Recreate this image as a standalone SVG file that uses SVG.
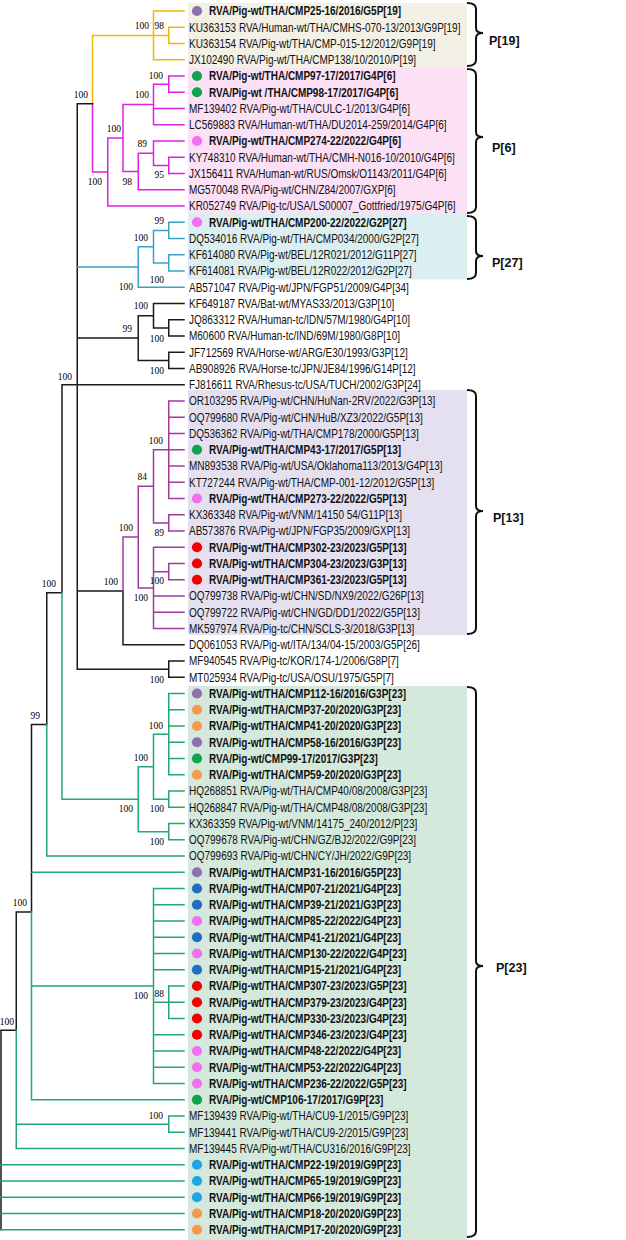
<svg xmlns="http://www.w3.org/2000/svg" width="626" height="1240" viewBox="0 0 626 1240">
<style>
.t{font-family:"Liberation Sans",Arial,sans-serif;font-size:12.5px;fill:#111}
.b{font-weight:bold}
.bs{font-family:"Liberation Serif","Times New Roman",serif;font-size:9.5px;fill:#000;text-anchor:end}
.cl{font-family:"Liberation Sans",Arial,sans-serif;font-size:12.5px;font-weight:bold;fill:#111}
.e{fill:none;stroke-width:1.5;stroke-linecap:square}
.k{stroke:#1a1a1a}.gd{stroke:#f2b500}.mg{stroke:#e020e0}.cy{stroke:#3aa2c8}.pp{stroke:#a23a9c}.gr{stroke:#22a676}
.br{fill:none;stroke:#111;stroke-width:2}
.pu{fill:#8c70b0}.gn{fill:#0fa34e}.pk{fill:#f46ef2}.rd{fill:#f40000}.or{fill:#f6994f}.bl{fill:#1f6fbf}.lb{fill:#1ca6e6}
</style>
<g id="clade-backgrounds">
<rect x="188" y="3" width="279" height="65" fill="#f3f0e6"/>
<rect x="188" y="68" width="279" height="146" fill="#fce0f5"/>
<rect x="188" y="214" width="279" height="65.5" fill="#dceff0"/>
<rect x="188" y="390" width="279" height="245" fill="#e5e0f0"/>
<rect x="188" y="686" width="279" height="554" fill="#d5e8dc"/>
</g>
<g id="connectors">
<path class="e gd" d="M92.5 35.38V103.68M92.5 35.38H153.5M153.5 11V59.75M153.5 11H184M153.5 59.75H184M153.5 35.38H168.75M168.75 27.25V43.5M168.75 27.25H184M168.75 43.5H184"/>
<path class="e mg" d="M92.5 103.68V171.98M92.5 171.98H107.75M107.75 137.95V206M107.75 137.95H123M107.75 206H184M123 104.44V171.47M123 104.44H153.5M123 171.47H138.25M153.5 84.13V124.75M153.5 84.13H168.75M153.5 108.5H184M153.5 124.75H184M168.75 76V92.25M168.75 76H184M168.75 92.25H184M138.25 153.19V189.75M138.25 153.19H153.5M138.25 189.75H184M153.5 141V165.38M153.5 141H184M153.5 165.38H168.75M168.75 157.25V173.5M168.75 157.25H184M168.75 173.5H184"/>
<path class="e k" d="M77.25 103.68V669.13M77.25 103.68H92.5M77.25 338.03H138.25M62 384.75H184M77.25 590.92H123M77.25 669.13H168.75M138.25 315.69V360.38M138.25 315.69H153.5M138.25 360.38H168.75M153.5 303.5V327.88M153.5 303.5H184M153.5 327.88H168.75M168.75 319.75V336M168.75 319.75H184M168.75 336H184M168.75 352.25V368.5M168.75 352.25H184M168.75 368.5H184M123 590.92V644.75M123 644.75H184M168.75 661V677.25M168.75 661H184M168.75 677.25H184M62 384.75V592.76M46.75 592.76H62M46.75 592.76V724.38M31.5 724.38H46.75M31.5 724.38V912.07M16.25 912.07H31.5M16.25 912.07V1030.3M1 1030.3H16.25M1 1030.3V1229.75"/>
<path class="e cy" d="M77.25 266.94H138.25M138.25 246.63V287.25M138.25 246.63H153.5M138.25 287.25H184M153.5 230.38V262.88M153.5 230.38H168.75M153.5 262.88H168.75M168.75 222.25V238.5M168.75 222.25H184M168.75 238.5H184M168.75 254.75V271M168.75 254.75H184M168.75 271H184"/>
<path class="e pp" d="M123 537.09V590.92M123 537.09H138.25M138.25 486.31V587.88M138.25 486.31H153.5M138.25 587.88H153.5M153.5 449.75V522.88M153.5 449.75H168.75M153.5 522.88H168.75M168.75 401V498.5M168.75 401H184M168.75 417.25H184M168.75 433.5H184M168.75 449.75H184M168.75 466H184M168.75 482.25H184M168.75 498.5H184M168.75 514.75V531M168.75 514.75H184M168.75 531H184M153.5 547.25V628.5M153.5 547.25H184M153.5 571.63H168.75M153.5 596H184M153.5 612.25H184M153.5 628.5H184M168.75 563.5V579.75M168.75 563.5H184M168.75 579.75H184"/>
<path class="e gr" d="M62 592.76V799.13M62 799.13H138.25M46.75 724.38V856M46.75 856H184M31.5 912.07V1099.75M31.5 872.25H184M31.5 986H153.5M31.5 1099.75H184M16.25 1030.3V1148.5M16.25 1124.13H168.75M16.25 1148.5H184M1 1164.75H184M1 1181H184M1 1197.25H184M1 1213.5H184M1 1229.75H184M138.25 766.63V831.63M138.25 766.63H153.5M138.25 831.63H168.75M153.5 734.13V799.13M153.5 734.13H168.75M153.5 799.13H168.75M168.75 693.5V774.75M168.75 693.5H184M168.75 709.75H184M168.75 726H184M168.75 742.25H184M168.75 758.5H184M168.75 774.75H184M168.75 791V807.25M168.75 791H184M168.75 807.25H184M168.75 823.5V839.75M168.75 823.5H184M168.75 839.75H184M153.5 888.5V1083.5M153.5 888.5H184M153.5 904.75H184M153.5 921H184M153.5 937.25H184M153.5 953.5H184M153.5 969.75H184M153.5 1002.25H168.75M153.5 1034.75H184M153.5 1051H184M153.5 1067.25H184M153.5 1083.5H184M168.75 986V1018.5M168.75 986H184M168.75 1002.25H184M168.75 1018.5H184M168.75 1116V1132.25M168.75 1116H184M168.75 1132.25H184"/>
</g>
<g id="bootstrap" class="bs">
<text x="149" y="28.5">100</text><text x="164" y="28.5">98</text>
<text x="163" y="78.5">100</text><text x="149" y="97.5">100</text><text x="88" y="97.5">100</text>
<text x="121" y="131.5">100</text><text x="147" y="146.5">89</text><text x="164" y="177.5">95</text>
<text x="132" y="184.5">98</text><text x="102" y="184.5">100</text>
<text x="164" y="223.5">99</text><text x="148" y="240.5">100</text><text x="164" y="282.5">100</text><text x="133" y="289.5">100</text>
<text x="148" y="308.5">100</text><text x="132" y="331.5">99</text><text x="164" y="341.5">100</text><text x="164" y="373.5">100</text>
<text x="72" y="379.5">100</text><text x="163" y="443.5">100</text><text x="147" y="479.5">84</text>
<text x="133" y="530.5">100</text><text x="164" y="535.5">89</text><text x="118" y="584.5">100</text>
<text x="164" y="583.5">100</text><text x="56" y="586.5">100</text><text x="148" y="600.5">100</text>
<text x="164" y="682.5">100</text><text x="40" y="718.5">99</text><text x="163" y="728.5">100</text>
<text x="148" y="760.5">100</text><text x="133" y="811.5">100</text><text x="164" y="811.5">100</text>
<text x="164" y="844.5">100</text><text x="27" y="905.5">100</text><text x="164" y="996.5">88</text>
<text x="148" y="998.5">100</text><text x="14" y="1024.5">100</text><text x="163" y="1118.5">100</text>
</g>
<g id="leaves" transform="scale(0.8 1)">
<g id="n1"><ellipse class="pu" cx="246.25" cy="11" rx="6.4" ry="5.1"/><text class="t b" x="261.25" y="15.3">RVA/Pig-wt/THA/CMP25-16/2016/G5P[19]</text></g>
<g id="n2"><text class="t" x="236.25" y="31.55">KU363153 RVA/Human-wt/THA/CMHS-070-13/2013/G9P[19]</text></g>
<g id="n3"><text class="t" x="236.25" y="47.8">KU363154 RVA/Pig-wt/THA/CMP-015-12/2012/G9P[19]</text></g>
<g id="n4"><text class="t" x="236.25" y="64.05">JX102490 RVA/Pig-wt/THA/CMP138/10/2010/P[19]</text></g>
<g id="n5"><ellipse class="gn" cx="246.25" cy="76" rx="6.4" ry="5.1"/><text class="t b" x="261.25" y="80.3">RVA/Pig-wt/THA/CMP97-17/2017/G4P[6]</text></g>
<g id="n6"><ellipse class="gn" cx="246.25" cy="92.25" rx="6.4" ry="5.1"/><text class="t b" x="261.25" y="96.55">RVA/Pig-wt /THA/CMP98-17/2017/G4P[6]</text></g>
<g id="n7"><text class="t" x="236.25" y="112.8">MF139402 RVA/Pig-wt/THA/CULC-1/2013/G4P[6]</text></g>
<g id="n8"><text class="t" x="236.25" y="129.05">LC569883 RVA/Human-wt/THA/DU2014-259/2014/G4P[6]</text></g>
<g id="n9"><ellipse class="pk" cx="246.25" cy="141" rx="6.4" ry="5.1"/><text class="t b" x="261.25" y="145.3">RVA/Pig-wt/THA/CMP274-22/2022/G4P[6]</text></g>
<g id="n10"><text class="t" x="236.25" y="161.55">KY748310 RVA/Human-wt/THA/CMH-N016-10/2010/G4P[6]</text></g>
<g id="n11"><text class="t" x="236.25" y="177.8">JX156411 RVA/Human-wt/RUS/Omsk/O1143/2011/G4P[6]</text></g>
<g id="n12"><text class="t" x="236.25" y="194.05">MG570048 RVA/Pig-wt/CHN/Z84/2007/GXP[6]</text></g>
<g id="n13"><text class="t" x="236.25" y="210.3">KR052749 RVA/Pig-tc/USA/LS00007_Gottfried/1975/G4P[6]</text></g>
<g id="n14"><ellipse class="pk" cx="246.25" cy="222.25" rx="6.4" ry="5.1"/><text class="t b" x="261.25" y="226.55">RVA/Pig-wt/THA/CMP200-22/2022/G2P[27]</text></g>
<g id="n15"><text class="t" x="236.25" y="242.8">DQ534016 RVA/Pig-wt/THA/CMP034/2000/G2P[27]</text></g>
<g id="n16"><text class="t" x="236.25" y="259.05">KF614080 RVA/Pig-wt/BEL/12R021/2012/G11P[27]</text></g>
<g id="n17"><text class="t" x="236.25" y="275.3">KF614081 RVA/Pig-wt/BEL/12R022/2012/G2P[27]</text></g>
<g id="n18"><text class="t" x="236.25" y="291.55">AB571047 RVA/Pig-wt/JPN/FGP51/2009/G4P[34]</text></g>
<g id="n19"><text class="t" x="236.25" y="307.8">KF649187 RVA/Bat-wt/MYAS33/2013/G3P[10]</text></g>
<g id="n20"><text class="t" x="236.25" y="324.05">JQ863312 RVA/Human-tc/IDN/57M/1980/G4P[10]</text></g>
<g id="n21"><text class="t" x="236.25" y="340.3">M60600 RVA/Human-tc/IND/69M/1980/G8P[10]</text></g>
<g id="n22"><text class="t" x="236.25" y="356.55">JF712569 RVA/Horse-wt/ARG/E30/1993/G3P[12]</text></g>
<g id="n23"><text class="t" x="236.25" y="372.8">AB908926 RVA/Horse-tc/JPN/JE84/1996/G14P[12]</text></g>
<g id="n24"><text class="t" x="236.25" y="389.05">FJ816611 RVA/Rhesus-tc/USA/TUCH/2002/G3P[24]</text></g>
<g id="n25"><text class="t" x="236.25" y="405.3">OR103295 RVA/Pig-wt/CHN/HuNan-2RV/2022/G3P[13]</text></g>
<g id="n26"><text class="t" x="236.25" y="421.55">OQ799680 RVA/Pig-wt/CHN/HuB/XZ3/2022/G5P[13]</text></g>
<g id="n27"><text class="t" x="236.25" y="437.8">DQ536362 RVA/Pig-wt/THA/CMP178/2000/G5P[13]</text></g>
<g id="n28"><ellipse class="gn" cx="246.25" cy="449.75" rx="6.4" ry="5.1"/><text class="t b" x="261.25" y="454.05">RVA/Pig-wt/THA/CMP43-17/2017/G5P[13]</text></g>
<g id="n29"><text class="t" x="236.25" y="470.3">MN893538 RVA/Pig-wt/USA/Oklahoma113/2013/G4P[13]</text></g>
<g id="n30"><text class="t" x="236.25" y="486.55">KT727244 RVA/Pig-wt/THA/CMP-001-12/2012/G5P[13]</text></g>
<g id="n31"><ellipse class="pk" cx="246.25" cy="498.5" rx="6.4" ry="5.1"/><text class="t b" x="261.25" y="502.8">RVA/Pig-wt/THA/CMP273-22/2022/G5P[13]</text></g>
<g id="n32"><text class="t" x="236.25" y="519.05">KX363348 RVA/Pig-wt/VNM/14150 54/G11P[13]</text></g>
<g id="n33"><text class="t" x="236.25" y="535.3">AB573876 RVA/Pig-wt/JPN/FGP35/2009/GXP[13]</text></g>
<g id="n34"><ellipse class="rd" cx="246.25" cy="547.25" rx="6.4" ry="5.1"/><text class="t b" x="261.25" y="551.55">RVA/Pig-wt/THA/CMP302-23/2023/G5P[13]</text></g>
<g id="n35"><ellipse class="rd" cx="246.25" cy="563.5" rx="6.4" ry="5.1"/><text class="t b" x="261.25" y="567.8">RVA/Pig-wt/THA/CMP304-23/2023/G3P[13]</text></g>
<g id="n36"><ellipse class="rd" cx="246.25" cy="579.75" rx="6.4" ry="5.1"/><text class="t b" x="261.25" y="584.05">RVA/Pig-wt/THA/CMP361-23/2023/G5P[13]</text></g>
<g id="n37"><text class="t" x="236.25" y="600.3">OQ799738 RVA/Pig-wt/CHN/SD/NX9/2022/G26P[13]</text></g>
<g id="n38"><text class="t" x="236.25" y="616.55">OQ799722 RVA/Pig-wt/CHN/GD/DD1/2022/G5P[13]</text></g>
<g id="n39"><text class="t" x="236.25" y="632.8">MK597974 RVA/Pig-tc/CHN/SCLS-3/2018/G3P[13]</text></g>
<g id="n40"><text class="t" x="236.25" y="649.05">DQ061053 RVA/Pig-wt/ITA/134/04-15/2003/G5P[26]</text></g>
<g id="n41"><text class="t" x="236.25" y="665.3">MF940545 RVA/Pig-tc/KOR/174-1/2006/G8P[7]</text></g>
<g id="n42"><text class="t" x="236.25" y="681.55">MT025934 RVA/Pig-tc/USA/OSU/1975/G5P[7]</text></g>
<g id="n43"><ellipse class="pu" cx="246.25" cy="693.5" rx="6.4" ry="5.1"/><text class="t b" x="261.25" y="697.8">RVA/Pig-wt/THA/CMP112-16/2016/G3P[23]</text></g>
<g id="n44"><ellipse class="or" cx="246.25" cy="709.75" rx="6.4" ry="5.1"/><text class="t b" x="261.25" y="714.05">RVA/Pig-wt/THA/CMP37-20/2020/G3P[23]</text></g>
<g id="n45"><ellipse class="or" cx="246.25" cy="726" rx="6.4" ry="5.1"/><text class="t b" x="261.25" y="730.3">RVA/Pig-wt/THA/CMP41-20/2020/G3P[23]</text></g>
<g id="n46"><ellipse class="pu" cx="246.25" cy="742.25" rx="6.4" ry="5.1"/><text class="t b" x="261.25" y="746.55">RVA/Pig-wt/THA/CMP58-16/2016/G3P[23]</text></g>
<g id="n47"><ellipse class="gn" cx="246.25" cy="758.5" rx="6.4" ry="5.1"/><text class="t b" x="261.25" y="762.8">RVA/Pig-wt/CMP99-17/2017/G3P[23]</text></g>
<g id="n48"><ellipse class="or" cx="246.25" cy="774.75" rx="6.4" ry="5.1"/><text class="t b" x="261.25" y="779.05">RVA/Pig-wt/THA/CMP59-20/2020/G3P[23]</text></g>
<g id="n49"><text class="t" x="236.25" y="795.3">HQ268851 RVA/Pig-wt/THA/CMP40/08/2008/G3P[23]</text></g>
<g id="n50"><text class="t" x="236.25" y="811.55">HQ268847 RVA/Pig-wt/THA/CMP48/08/2008/G3P[23]</text></g>
<g id="n51"><text class="t" x="236.25" y="827.8">KX363359 RVA/Pig-wt/VNM/14175_240/2012/P[23]</text></g>
<g id="n52"><text class="t" x="236.25" y="844.05">OQ799678 RVA/Pig-wt/CHN/GZ/BJ2/2022/G9P[23]</text></g>
<g id="n53"><text class="t" x="236.25" y="860.3">OQ799693 RVA/Pig-wt/CHN/CY/JH/2022/G9P[23]</text></g>
<g id="n54"><ellipse class="pu" cx="246.25" cy="872.25" rx="6.4" ry="5.1"/><text class="t b" x="261.25" y="876.55">RVA/Pig-wt/THA/CMP31-16/2016/G5P[23]</text></g>
<g id="n55"><ellipse class="bl" cx="246.25" cy="888.5" rx="6.4" ry="5.1"/><text class="t b" x="261.25" y="892.8">RVA/Pig-wt/THA/CMP07-21/2021/G4P[23]</text></g>
<g id="n56"><ellipse class="bl" cx="246.25" cy="904.75" rx="6.4" ry="5.1"/><text class="t b" x="261.25" y="909.05">RVA/Pig-wt/THA/CMP39-21/2021/G3P[23]</text></g>
<g id="n57"><ellipse class="pk" cx="246.25" cy="921" rx="6.4" ry="5.1"/><text class="t b" x="261.25" y="925.3">RVA/Pig-wt/THA/CMP85-22/2022/G4P[23]</text></g>
<g id="n58"><ellipse class="bl" cx="246.25" cy="937.25" rx="6.4" ry="5.1"/><text class="t b" x="261.25" y="941.55">RVA/Pig-wt/THA/CMP41-21/2021/G4P[23]</text></g>
<g id="n59"><ellipse class="pk" cx="246.25" cy="953.5" rx="6.4" ry="5.1"/><text class="t b" x="261.25" y="957.8">RVA/Pig-wt/THA/CMP130-22/2022/G4P[23]</text></g>
<g id="n60"><ellipse class="bl" cx="246.25" cy="969.75" rx="6.4" ry="5.1"/><text class="t b" x="261.25" y="974.05">RVA/Pig-wt/THA/CMP15-21/2021/G4P[23]</text></g>
<g id="n61"><ellipse class="rd" cx="246.25" cy="986" rx="6.4" ry="5.1"/><text class="t b" x="261.25" y="990.3">RVA/Pig-wt/THA/CMP307-23/2023/G5P[23]</text></g>
<g id="n62"><ellipse class="rd" cx="246.25" cy="1002.25" rx="6.4" ry="5.1"/><text class="t b" x="261.25" y="1006.55">RVA/Pig-wt/THA/CMP379-23/2023/G4P[23]</text></g>
<g id="n63"><ellipse class="rd" cx="246.25" cy="1018.5" rx="6.4" ry="5.1"/><text class="t b" x="261.25" y="1022.8">RVA/Pig-wt/THA/CMP330-23/2023/G4P[23]</text></g>
<g id="n64"><ellipse class="rd" cx="246.25" cy="1034.75" rx="6.4" ry="5.1"/><text class="t b" x="261.25" y="1039.05">RVA/Pig-wt/THA/CMP346-23/2023/G4P[23]</text></g>
<g id="n65"><ellipse class="pk" cx="246.25" cy="1051" rx="6.4" ry="5.1"/><text class="t b" x="261.25" y="1055.3">RVA/Pig-wt/THA/CMP48-22/2022/G4P[23]</text></g>
<g id="n66"><ellipse class="pk" cx="246.25" cy="1067.25" rx="6.4" ry="5.1"/><text class="t b" x="261.25" y="1071.55">RVA/Pig-wt/THA/CMP53-22/2022/G4P[23]</text></g>
<g id="n67"><ellipse class="pk" cx="246.25" cy="1083.5" rx="6.4" ry="5.1"/><text class="t b" x="261.25" y="1087.8">RVA/Pig-wt/THA/CMP236-22/2022/G5P[23]</text></g>
<g id="n68"><ellipse class="gn" cx="246.25" cy="1099.75" rx="6.4" ry="5.1"/><text class="t b" x="261.25" y="1104.05">RVA/Pig-wt/CMP106-17/2017/G9P[23]</text></g>
<g id="n69"><text class="t" x="236.25" y="1120.3">MF139439 RVA/Pig-wt/THA/CU9-1/2015/G9P[23]</text></g>
<g id="n70"><text class="t" x="236.25" y="1136.55">MF139441 RVA/Pig-wt/THA/CU9-2/2015/G9P[23]</text></g>
<g id="n71"><text class="t" x="236.25" y="1152.8">MF139445 RVA/Pig-wt/THA/CU316/2016/G9P[23]</text></g>
<g id="n72"><ellipse class="lb" cx="246.25" cy="1164.75" rx="6.4" ry="5.1"/><text class="t b" x="261.25" y="1169.05">RVA/Pig-wt/THA/CMP22-19/2019/G9P[23]</text></g>
<g id="n73"><ellipse class="lb" cx="246.25" cy="1181" rx="6.4" ry="5.1"/><text class="t b" x="261.25" y="1185.3">RVA/Pig-wt/THA/CMP65-19/2019/G9P[23]</text></g>
<g id="n74"><ellipse class="lb" cx="246.25" cy="1197.25" rx="6.4" ry="5.1"/><text class="t b" x="261.25" y="1201.55">RVA/Pig-wt/THA/CMP66-19/2019/G9P[23]</text></g>
<g id="n75"><ellipse class="or" cx="246.25" cy="1213.5" rx="6.4" ry="5.1"/><text class="t b" x="261.25" y="1217.8">RVA/Pig-wt/THA/CMP18-20/2020/G9P[23]</text></g>
<g id="n76"><ellipse class="or" cx="246.25" cy="1229.75" rx="6.4" ry="5.1"/><text class="t b" x="261.25" y="1234.05">RVA/Pig-wt/THA/CMP17-20/2020/G9P[23]</text></g>
</g>
<g id="clade-brackets">
<path class="br" d="M467 3Q476 3 476 9V28Q476 33 483 33Q476 33 476 38V60Q476 66 467 66"/>
<path class="br" d="M467 69Q476 69 476 75V132Q476 137 483 137Q476 137 476 142V207Q476 213 467 213"/>
<path class="br" d="M467 216Q476 216 476 222V251Q476 256 483 256Q476 256 476 261V273Q476 279 467 279"/>
<path class="br" d="M467 390Q476 390 476 396V506Q476 511 483 511Q476 511 476 516V628Q476 634 467 634"/>
<path class="br" d="M467 687Q476 687 476 693V961Q476 966 483 966Q476 966 476 971V1231Q476 1237 467 1237"/>
</g>
<g id="clade-labels">
<text class="cl" x="489" y="45">P[19]</text>
<text class="cl" x="492" y="152">P[6]</text>
<text class="cl" x="492" y="267">P[27]</text>
<text class="cl" x="493" y="522">P[13]</text>
<text class="cl" x="496" y="972">P[23]</text>
</g>
</svg>
